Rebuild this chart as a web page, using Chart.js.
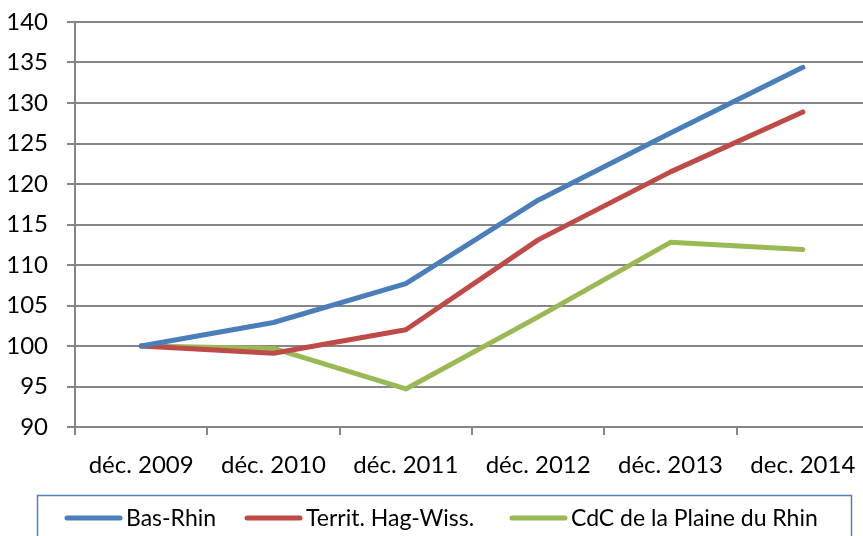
<!DOCTYPE html>
<html><head><meta charset="utf-8">
<script src="https://cdn.jsdelivr.net/npm/chart.js@4"></script>
<style>html,body{margin:0;padding:0;background:#fff;overflow:hidden;}#wrap{width:863px;height:536px;overflow:hidden;position:relative}canvas{display:block}</style>
</head><body><div id="wrap"><canvas id="c" width="880" height="536"></canvas></div>
<script>
const categories = ['déc. 2009','déc. 2010','déc. 2011','déc. 2012','déc. 2013','dec. 2014'];
const basRhin = [100, 102.9, 107.7, 118.0, 126.3, 134.4];
const territ  = [100, 99.1, 102.0, 113.1, 121.5, 128.9];
const cdc     = [100, 99.7, 94.7, 103.6, 112.8, 111.9];
const seriesNames = ['Bas-Rhin', 'Territ. Hag-Wiss.', 'CdC de la Plaine du Rhin'];
const colors = ['#4A7EBB', '#BE4B48', '#98B954'];
const FONT = 'Lato';

const legendPlugin = {
  id: 'boxLegend',
  afterDraw(chart) {
    const ctx = chart.ctx;
    ctx.save();
    ctx.strokeStyle = '#4F81BD';
    ctx.lineWidth = 1.5;
    ctx.strokeRect(37.5, 495.5, 814, 60);
    ctx.font = '23px ' + FONT;
    ctx.textBaseline = 'middle';
    ctx.fillStyle = '#000';
    const starts = [67, 247, 512];
    seriesNames.forEach((n, i) => {
      const x = starts[i];
      ctx.strokeStyle = colors[i];
      ctx.lineWidth = 5;
      ctx.lineCap = 'round';
      ctx.beginPath(); ctx.moveTo(x, 518); ctx.lineTo(x + 53, 518); ctx.stroke();
      ctx.fillText(n, x + 59, 519);
    });
    ctx.restore();
  }
};

function draw() {
  new Chart(document.getElementById('c'), {
    type: 'line',
    data: {
      labels: categories,
      datasets: [basRhin, territ, cdc].map((d, i) => ({
        label: seriesNames[i], data: d, borderColor: colors[i], backgroundColor: colors[i],
        borderWidth: 5, pointRadius: 0, tension: 0, borderCapStyle: 'round', borderJoinStyle: 'round'
      }))
    },
    options: {
      responsive: false, animation: false,
      layout: { padding: { top: 22, right: 11, left: 0, bottom: 0 } },
      plugins: { legend: { display: false }, tooltip: { enabled: false } },
      scales: {
        x: {
          offset: true,
          grid: { offset: true, drawOnChartArea: false, drawTicks: true, tickLength: 8, color: '#868686', lineWidth: 2 },
          border: { color: '#868686', width: 2 },
          ticks: { color: '#000', font: { family: FONT, size: 24 }, padding: 16, maxRotation: 0, autoSkip: false },
          afterFit(s) { s.height = 109; s.paddingLeft = 0; s.paddingRight = 0; }
        },
        y: {
          min: 90, max: 140,
          grid: { color: '#868686', lineWidth: 2, tickLength: 8 },
          border: { color: '#868686', width: 2 },
          ticks: { stepSize: 5, color: '#000', font: { family: FONT, size: 24 }, padding: 19 },
          afterFit(s) { s.width = 75; s.paddingTop = 0; s.paddingBottom = 0; }
        }
      }
    },
    plugins: [legendPlugin]
  });
}
(document.fonts && document.fonts.load ? document.fonts.load('24px ' + FONT) : Promise.resolve()).then(draw, draw);
</script></body></html>
